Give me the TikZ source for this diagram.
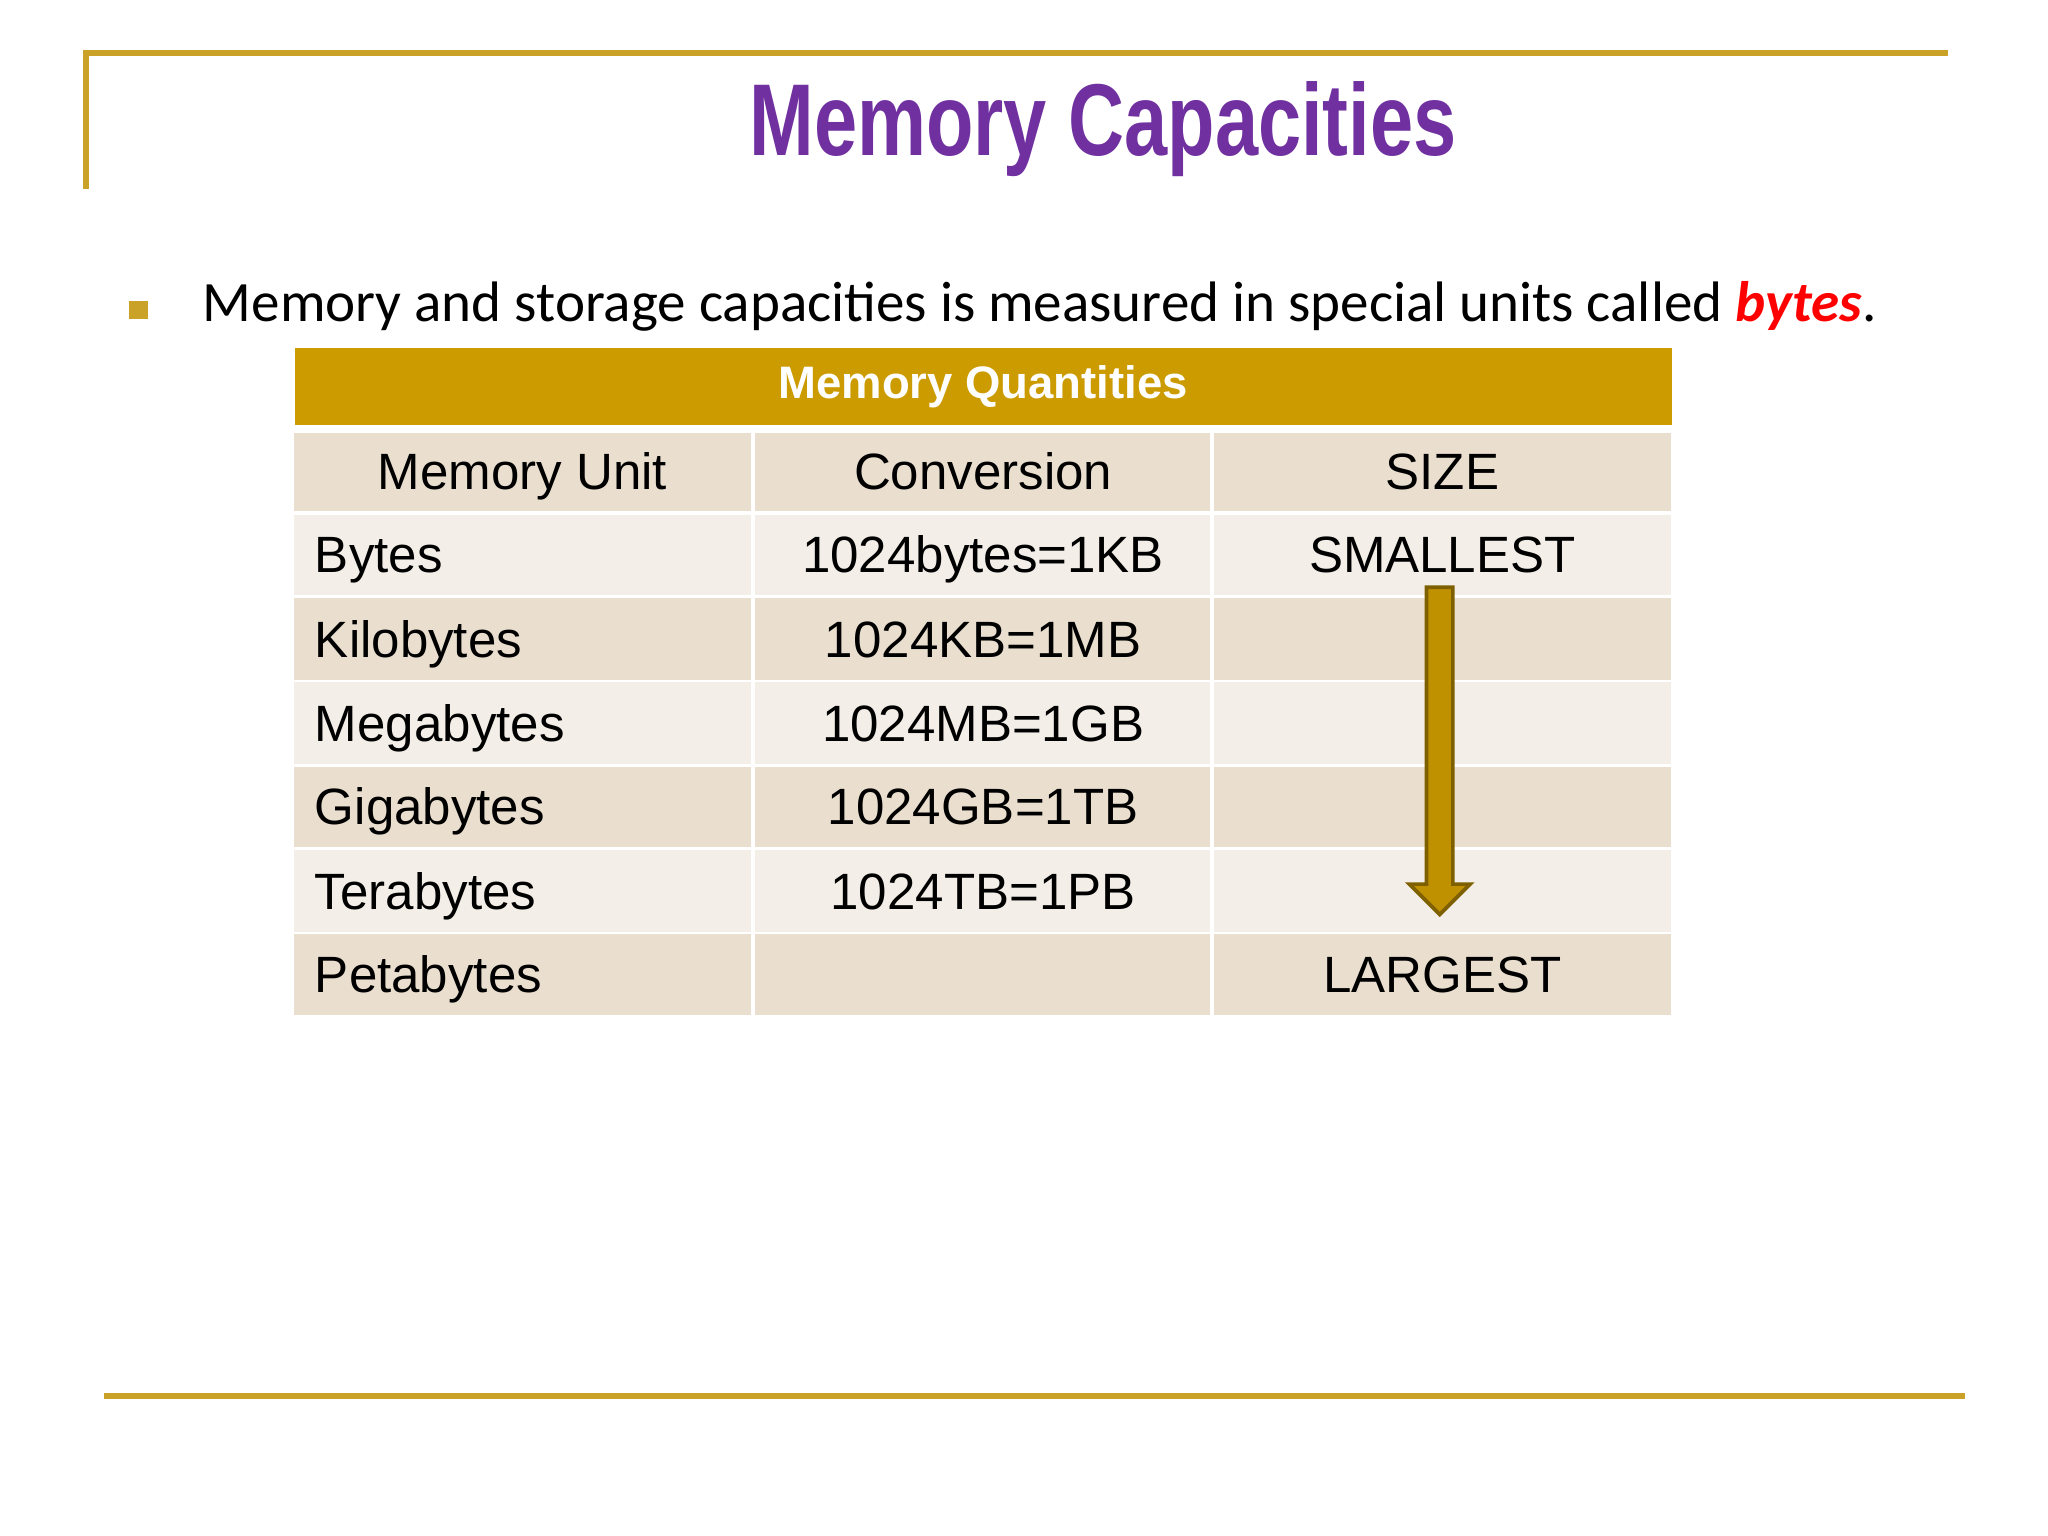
\documentclass[tikz,border=0pt]{standalone}
\usepackage{fontspec}
\setmainfont{Liberation Sans}
\newfontfamily\carl{Carlito}
\definecolor{gold}{HTML}{C9A227}
\definecolor{hdr}{HTML}{CC9B00}
\definecolor{rowa}{HTML}{EADFCF}
\definecolor{rowb}{HTML}{F3EEE7}
\definecolor{ttl}{HTML}{7030A0}
\definecolor{arrf}{HTML}{BF9000}
\definecolor{arrd}{HTML}{7F6000}
\begin{document}
\begin{tikzpicture}[x=0.01cm,y=-0.01cm,
  txt/.style={font=\fontsize{11}{13}\selectfont,inner sep=0,anchor=base}]
\useasboundingbox (0,0) rectangle (1552,1164);
\draw[gold,line width=1.3pt] (65,143) -- (65,40) -- (1476,40);
\draw[gold,line width=1.3pt] (79,1058) -- (1489,1058);
\node[ttl,font=\fontsize{22}{24}\selectfont\bfseries] (title) at (836,98) {\scalebox{0.76}[1]{Memory Capacities}};
\node[fill=gold,minimum size=0.14cm,inner sep=0] (bul) at (105,235) {};
\node[anchor=base west,font=\carl\fontsize{12.3}{15}\selectfont,inner sep=0] (body) at (153,244)
  {Memory and storage capacities is measured in special units called \textcolor{red}{\textbf{\textit{bytes}}}.};
\node[fill=hdr,anchor=north west,minimum width=10.43cm,minimum height=0.58cm,inner sep=0] (hdr) at (223,263) {};
\node[white,font=\fontsize{9.8}{12}\selectfont\bfseries,inner sep=0,anchor=base] (hdrt) at (745,302) {Memory Quantities};
\foreach \y/\h/\c [count=\i] in {328/59/rowa,390/61/rowb,453/62/rowa,517/62/rowb,581/61/rowa,644/62/rowb,708/61/rowa}{
  \fill[\c] (223,\y) rectangle (569,\y+\h);
  \fill[\c] (572,\y) rectangle (917,\y+\h);
  \fill[\c] (920,\y) rectangle (1266,\y+\h);
}
\node[txt] (h1) at (396,371) {Memory Unit};
\node[txt] (h2) at (745,371) {Conversion};
\node[txt] (h3) at (1093,371) {SIZE};
\foreach \y/\a/\b [count=\i] in {434/Bytes/1024bytes=1KB,498/Kilobytes/1024KB=1MB,562/Megabytes/1024MB=1GB,625/Gigabytes/1024GB=1TB,689/Terabytes/1024TB=1PB,752/Petabytes/{}}{
  \node[txt,anchor=base west] (u\i) at (238,\y) {\a};
  \node[txt] (c\i) at (745,\y) {\b};
}
\node[txt] (small) at (1093,434) {SMALLEST};
\node[txt] (large) at (1093,752) {LARGEST};
\draw[arrd,fill=arrf,line width=0.8pt] (1081,445) -- (1101,445) -- (1101,670) -- (1114,670) -- (1091,693) -- (1068,670) -- (1081,670) -- cycle;
\end{tikzpicture}
\end{document}
